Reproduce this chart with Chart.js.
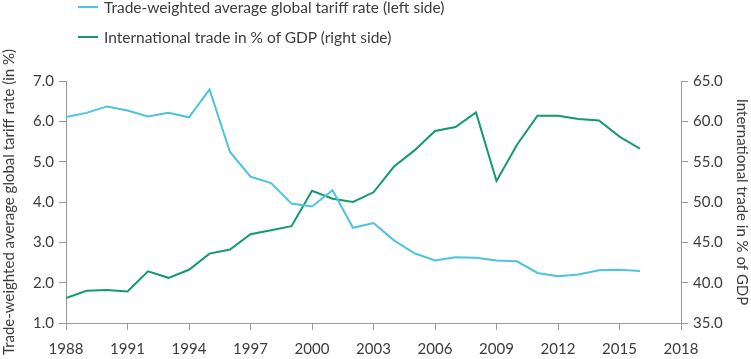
<!DOCTYPE html>
<html>
<head>
<meta charset="utf-8">
<script src="https://cdn.jsdelivr.net/npm/chart.js@4.4.0/dist/chart.umd.min.js"></script>
<style>
  body { margin: 0; background: #fff; font-family: Lato, "Open Sans", sans-serif; }
  #wrap { position: relative; width: 751px; height: 359px; }
  .legend { position: absolute; left: 78px; font-size: 15.5px; color: #3c3c3c; display: flex; align-items: center; }
  .legend span.line { display: inline-block; width: 20px; height: 2px; margin-right: 6px; }
</style>
</head>
<body>
<div id="wrap">
  <canvas id="chart" width="751" height="359"></canvas>
  <div class="legend" style="top:-2px"><span class="line" style="background:#4cc3df"></span>Trade-weighted average global tariff rate (left side)</div>
  <div class="legend" style="top:28px"><span class="line" style="background:#139b6b"></span>International trade in % of GDP (right side)</div>
</div>
<script>
const years = [1988, 1989, 1990, 1991, 1992, 1993, 1994, 1995, 1996, 1997, 1998, 1999, 2000, 2001, 2002,
  2003, 2004, 2005, 2006, 2007, 2008, 2009, 2010, 2011, 2012, 2013, 2014, 2015, 2016];
const tariffRate = [6.11, 6.21, 6.37, 6.27, 6.12, 6.21, 6.10, 6.79, 5.24, 4.63, 4.47, 3.96, 3.89, 4.29, 3.36,
  3.48, 3.05, 2.73, 2.55, 2.63, 2.62, 2.55, 2.53, 2.24, 2.16, 2.20, 2.31, 2.32, 2.29];
const tradeGdp = [38.1, 39.0, 39.1, 38.9, 41.4, 40.6, 41.6, 43.6, 44.1, 46.0, 46.5, 47.0, 51.4, 50.4, 50.0,
  51.2, 54.4, 56.4, 58.8, 59.3, 61.1, 52.6, 57.1, 60.7, 60.7, 60.3, 60.1, 58.1, 56.6];

const textColor = "#3c3c3c";
const axisColor = "#9a9a9a";

const ctx = document.getElementById("chart").getContext("2d");
new Chart(ctx, {
  type: 'line',
  data: {
    datasets: [{
      label: "Trade-weighted average global tariff rate (left side)",
      data: years.map((y, i) => ({ x: y, y: tariffRate[i] })),
      borderColor: "#4cc3df",
      borderWidth: 2,
      pointRadius: 0,
      tension: 0,
      yAxisID: 'y'
    }, {
      label: "International trade in % of GDP (right side)",
      data: years.map((y, i) => ({ x: y, y: tradeGdp[i] })),
      borderColor: "#139b6b",
      borderWidth: 2,
      pointRadius: 0,
      tension: 0,
      yAxisID: 'y1'
    }]
  },
  options: {
    responsive: false,
    animation: false,
    layout: { padding: { top: 81, left: 0, right: 0, bottom: 0 } },
    plugins: { legend: { display: false }, tooltip: { enabled: false } },
    scales: {
      x: {
        type: 'linear',
        min: 1988,
        max: 2018,
        afterBuildTicks: axis => { axis.ticks = [1988, 1991, 1994, 1997, 2000, 2003, 2006, 2009, 2012, 2015, 2018].map(v => ({ value: v })); },
        afterFit: axis => { axis.height = 36; },
        grid: { display: true, drawOnChartArea: false, color: axisColor, tickLength: 7 },
        border: { color: axisColor },
        ticks: { color: textColor, font: { size: 15, family: "Lato" }, padding: 10, callback: v => String(v) }
      },
      y: {
        position: 'left',
        min: 1,
        max: 7,
        afterFit: axis => { axis.width = 66; },
        grid: { display: true, drawOnChartArea: false, color: axisColor, tickLength: 7 },
        border: { color: axisColor },
        ticks: { stepSize: 1, color: textColor, font: { size: 15, family: "Lato" }, padding: 5, callback: v => v.toFixed(1) },
        title: { display: true, text: "Trade-weighted average global tariff rate (in %)", color: textColor, font: { size: 15, family: "Lato" }, padding: 0 }
      },
      y1: {
        position: 'right',
        min: 35,
        max: 65,
        afterFit: axis => { axis.width = 70; },
        grid: { display: true, drawOnChartArea: false, color: axisColor, tickLength: 7 },
        border: { color: axisColor },
        ticks: { stepSize: 5, color: textColor, font: { size: 15, family: "Lato" }, padding: 5, callback: v => v.toFixed(1) },
        title: { display: true, text: "International trade in % of GDP", color: textColor, font: { size: 15, family: "Lato" }, padding: 0 }
      }
    }
  }
});
</script>
</body>
</html>
